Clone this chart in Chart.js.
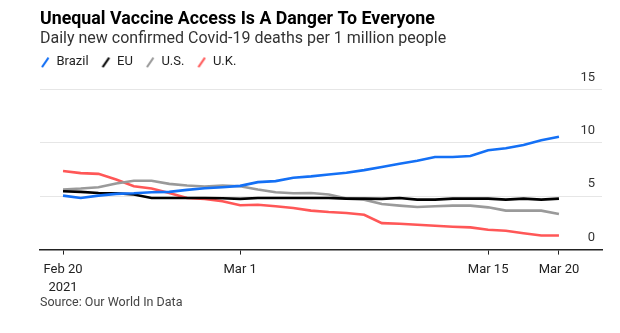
<!DOCTYPE html>
<html>
<head>
<meta charset="utf-8">
<script src="https://cdn.jsdelivr.net/npm/chart.js@4"></script>
<style>
  html, body { margin: 0; padding: 0; background: #fff; }
  #wrap { position: relative; width: 620px; height: 333px; }
  #source { position: absolute; left: 40px; top: 294px; font: 12.5px Roboto, sans-serif; color: #444; }
</style>
</head>
<body>
<div id="wrap">
  <canvas id="chart" width="620" height="333"></canvas>
  <div id="source">Source: Our World In Data</div>
</div>
<script>
// one value per day, Feb 20 .. Mar 20 2021
const days = ["Feb 20","Feb 21","Feb 22","Feb 23","Feb 24","Feb 25","Feb 26","Feb 27","Feb 28",
  "Mar 1","Mar 2","Mar 3","Mar 4","Mar 5","Mar 6","Mar 7","Mar 8","Mar 9","Mar 10","Mar 11",
  "Mar 12","Mar 13","Mar 14","Mar 15","Mar 16","Mar 17","Mar 18","Mar 19","Mar 20"];
const tickPos = [0, 10, 24, 28];
const tickLabels = [["Feb 20", "2021"], "Mar 1", "Mar 15", "Mar 20"];
const yTicks = [0, 5, 10, 15];

const brazil = [5.06, 4.84, 5.06, 5.22, 5.28, 5.38, 5.41, 5.6, 5.75, 5.85, 5.97, 6.32, 6.42, 6.73, 6.86,
  7.04, 7.2, 7.45, 7.74, 8.05, 8.33, 8.68, 8.68, 8.77, 9.31, 9.5, 9.81, 10.25, 10.57];
const eu = [5.47, 5.41, 5.31, 5.28, 5.16, 4.84, 4.84, 4.84, 4.84, 4.81, 4.75, 4.84, 4.84, 4.84, 4.84,
  4.84, 4.78, 4.78, 4.75, 4.84, 4.68, 4.68, 4.78, 4.78, 4.78, 4.68, 4.78, 4.68, 4.78];
const us = [5.63, 5.72, 5.85, 6.2, 6.45, 6.45, 6.16, 6.0, 5.91, 6.0, 5.94, 5.63, 5.38, 5.28, 5.3,
  5.16, 4.78, 4.68, 4.28, 4.12, 3.99, 4.06, 4.12, 4.12, 3.96, 3.65, 3.65, 3.65, 3.33];
const uk = [7.36, 7.17, 7.1, 6.57, 5.94, 5.72, 5.31, 4.84, 4.75, 4.53, 4.15, 4.2, 4.06, 3.9, 3.65,
  3.52, 3.43, 3.27, 2.48, 2.42, 2.33, 2.23, 2.14, 2.08, 1.86, 1.76, 1.54, 1.32, 1.32];

const FONT = "Roboto, 'Liberation Sans', sans-serif";

function slash(color) {
  const c = document.createElement("canvas");
  c.width = 10; c.height = 12;
  const g = c.getContext("2d");
  g.strokeStyle = color;
  g.lineWidth = 2.2;
  g.beginPath();
  g.moveTo(2, 11);
  g.lineTo(8.5, 1.5);
  g.stroke();
  return c;
}

function series(label, values, color) {
  return {
    label: label,
    data: values.map((v, i) => ({ x: i, y: v })),
    borderColor: color,
    backgroundColor: color,
    borderWidth: 2.6,
    pointRadius: 0,
    tension: 0,
    legendIcon: slash(color),
  };
}

// nudge legend so it lines up with the title
const legendShift = {
  id: "legendShift",
  afterLayout(chart) {
    chart.legend.left -= 12;
    chart.legend.top -= 5;
  },
};

new Chart(document.getElementById("chart"), {
  type: "line",
  data: {
    labels: days,
    datasets: [
      series("Brazil", brazil, "#1470f5"),
      series("EU", eu, "#000000"),
      series("U.S.", us, "#9a9a9a"),
      series("U.K.", uk, "#ff5757"),
    ],
  },
  options: {
    responsive: false,
    animation: false,
    layout: { padding: { left: 40, right: 18, top: 0, bottom: 30 } },
    plugins: {
      title: {
        display: true,
        text: "Unequal Vaccine Access Is A Danger To Everyone",
        align: "start",
        color: "#000",
        font: { family: FONT, size: 17.8, weight: "bold", lineHeight: 1.15 },
        padding: { top: 9, bottom: 0 },
      },
      subtitle: {
        display: true,
        text: "Daily new confirmed Covid-19 deaths per 1 million people",
        align: "start",
        color: "#333",
        font: { family: FONT, size: 16, lineHeight: 1.2 },
        padding: { top: 0, bottom: 0 },
      },
      legend: {
        align: "start",
        labels: {
          usePointStyle: true,
          boxWidth: 10,
          padding: 12,
          color: "#222",
          font: { family: FONT, size: 13 },
          generateLabels: (chart) =>
            chart.data.datasets.map((ds, i) => ({
              text: ds.label,
              pointStyle: ds.legendIcon,
              fontColor: "#222",
              strokeStyle: ds.borderColor,
              fillStyle: ds.borderColor,
              lineWidth: 0,
              datasetIndex: i,
            })),
        },
      },
      tooltip: { enabled: false },
    },
    scales: {
      x: {
        type: "linear",
        min: -1.3,
        max: 30.43,
        afterBuildTicks: (axis) => {
          axis.ticks = tickPos.map((v) => ({ value: v }));
        },
        grid: { drawOnChartArea: false, drawTicks: true, tickLength: 5, color: "#222", lineWidth: 1 },
        border: { display: true, color: "#222", width: 1.5 },
        ticks: {
          autoSkip: false,
          maxRotation: 0,
          padding: 6,
          color: "#222",
          font: { family: FONT, size: 13, lineHeight: 1.4 },
          callback: (v) => tickLabels[tickPos.indexOf(v)],
        },
      },
      y: {
        position: "right",
        min: 0,
        max: 15.55,
        afterBuildTicks: (axis) => {
          axis.ticks = yTicks.map((v) => ({ value: v }));
        },
        grid: {
          drawTicks: false,
          color: (ctx) => (ctx.tick && ctx.tick.value === 0 ? "rgba(0,0,0,0)" : "#e6e6e6"),
          lineWidth: 1,
        },
        border: { display: false },
        ticks: {
          mirror: true,
          padding: -7,
          labelOffset: -12,
          color: "#333",
          font: { family: FONT, size: 13 },
        },
      },
    },
  },
  plugins: [legendShift],
});
</script>
</body>
</html>
